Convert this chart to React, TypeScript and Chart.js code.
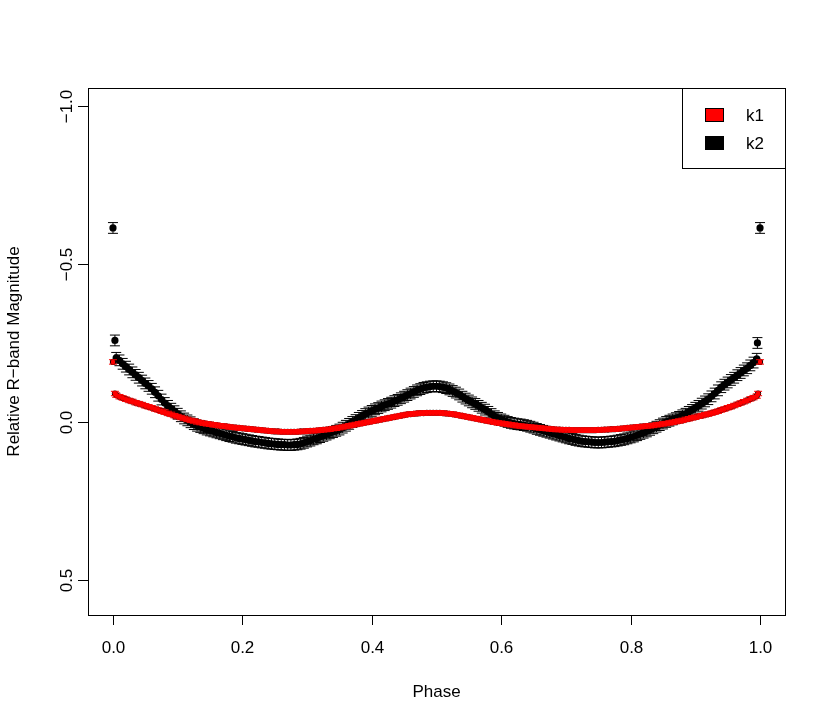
import React, { useEffect, useRef } from "react";
import { Chart, registerables } from "chart.js";

Chart.register(...registerables);

// ---- data ----
// phases of the main observations (two interleaved sets)
const PHASE_A = [
  0.01, 0.02, 0.03, 0.04, 0.05, 0.06, 0.07, 0.08, 0.09, 0.10,
  0.11, 0.12, 0.13, 0.14, 0.15, 0.16, 0.17, 0.18, 0.19, 0.20,
  0.21, 0.22, 0.23, 0.24, 0.25, 0.26, 0.27, 0.28, 0.29, 0.30,
  0.31, 0.32, 0.33, 0.34, 0.35, 0.36, 0.37, 0.38, 0.39, 0.40,
  0.41, 0.42, 0.43, 0.44, 0.45, 0.46, 0.47, 0.48, 0.49, 0.50,
  0.51, 0.52, 0.53, 0.54, 0.55, 0.56, 0.57, 0.58, 0.59, 0.60,
  0.61, 0.62, 0.63, 0.64, 0.65, 0.66, 0.67, 0.68, 0.69, 0.70,
  0.71, 0.72, 0.73, 0.74, 0.75, 0.76, 0.77, 0.78, 0.79, 0.80,
  0.81, 0.82, 0.83, 0.84, 0.85, 0.86, 0.87, 0.88, 0.89, 0.90,
  0.91, 0.92, 0.93, 0.94, 0.95, 0.96, 0.97, 0.98, 0.99,
];
const PHASE_B = [
  0.005, 0.015, 0.025, 0.035, 0.045, 0.055, 0.065, 0.075, 0.085, 0.095,
  0.105, 0.115, 0.125, 0.135, 0.145, 0.155, 0.165, 0.175, 0.185, 0.195,
  0.205, 0.215, 0.225, 0.235, 0.245, 0.255, 0.265, 0.275, 0.285, 0.295,
  0.305, 0.315, 0.325, 0.335, 0.345, 0.355, 0.365, 0.375, 0.385, 0.395,
  0.405, 0.415, 0.425, 0.435, 0.445, 0.455, 0.465, 0.475, 0.485, 0.495,
  0.505, 0.515, 0.525, 0.535, 0.545, 0.555, 0.565, 0.575, 0.585, 0.595,
  0.605, 0.615, 0.625, 0.635, 0.645, 0.655, 0.665, 0.675, 0.685, 0.695,
  0.705, 0.715, 0.725, 0.735, 0.745, 0.755, 0.765, 0.775, 0.785, 0.795,
  0.805, 0.815, 0.825, 0.835, 0.845, 0.855, 0.865, 0.875, 0.885, 0.895,
  0.905, 0.915, 0.925, 0.935, 0.945, 0.955, 0.965, 0.975, 0.985, 0.995,
];

const K1_MAG_A = [
  -0.080, -0.072, -0.065, -0.058, -0.051, -0.045, -0.038, -0.031, -0.024, -0.017,
  -0.011, -0.005, 0.000, 0.004, 0.007, 0.010, 0.013, 0.016, 0.018, 0.020,
  0.022, 0.024, 0.026, 0.028, 0.030, 0.031, 0.031, 0.031, 0.030, 0.029,
  0.028, 0.026, 0.024, 0.021, 0.018, 0.014, 0.010, 0.006, 0.002, -0.002,
  -0.006, -0.010, -0.014, -0.018, -0.022, -0.025, -0.027, -0.028, -0.029, -0.029,
  -0.028, -0.026, -0.023, -0.019, -0.015, -0.011, -0.007, -0.003, 0.001, 0.004,
  0.007, 0.010, 0.013, 0.015, 0.017, 0.019, 0.021, 0.023, 0.024, 0.025,
  0.026, 0.026, 0.026, 0.026, 0.025, 0.024, 0.023, 0.022, 0.020, 0.018,
  0.016, 0.014, 0.012, 0.009, 0.006, 0.003, -0.001, -0.005, -0.010, -0.015,
  -0.020, -0.025, -0.031, -0.038, -0.045, -0.052, -0.060, -0.068, -0.077,
];
const K1_MAG_B = [
  -0.085, -0.076, -0.068, -0.061, -0.055, -0.048, -0.041, -0.034, -0.027, -0.020,
  -0.014, -0.008, -0.003, 0.002, 0.006, 0.009, 0.012, 0.014, 0.017, 0.019,
  0.021, 0.023, 0.025, 0.027, 0.029, 0.030, 0.031, 0.031, 0.031, 0.030,
  0.028, 0.027, 0.025, 0.023, 0.020, 0.016, 0.012, 0.008, 0.004, 0.000,
  -0.004, -0.008, -0.012, -0.016, -0.020, -0.024, -0.026, -0.028, -0.029, -0.029,
  -0.029, -0.027, -0.025, -0.021, -0.017, -0.013, -0.009, -0.005, -0.001, 0.003,
  0.006, 0.009, 0.012, 0.014, 0.016, 0.018, 0.020, 0.022, 0.024, 0.025,
  0.025, 0.026, 0.026, 0.026, 0.026, 0.025, 0.024, 0.023, 0.021, 0.019,
  0.017, 0.015, 0.013, 0.011, 0.008, 0.005, 0.001, -0.003, -0.008, -0.013,
  -0.018, -0.023, -0.028, -0.034, -0.041, -0.048, -0.056, -0.064, -0.073, -0.082,
];

const K2_MAG_A = [
  -0.195, -0.175, -0.157, -0.140, -0.122, -0.105, -0.083, -0.060, -0.042, -0.026,
  -0.011, 0.001, 0.012, 0.020, 0.027, 0.033, 0.039, 0.045, 0.050, 0.054,
  0.058, 0.062, 0.065, 0.068, 0.070, 0.072, 0.073, 0.072, 0.069, 0.062,
  0.055, 0.048, 0.040, 0.032, 0.024, 0.012, 0.000, -0.013, -0.025, -0.035,
  -0.044, -0.053, -0.061, -0.070, -0.080, -0.090, -0.100, -0.108, -0.112, -0.113,
  -0.110, -0.103, -0.093, -0.080, -0.068, -0.057, -0.045, -0.032, -0.018, -0.008,
  0.000, 0.005, 0.008, 0.012, 0.018, 0.025, 0.031, 0.037, 0.043, 0.049,
  0.054, 0.059, 0.062, 0.064, 0.065, 0.064, 0.062, 0.059, 0.055, 0.049,
  0.042, 0.034, 0.025, 0.015, 0.005, -0.004, -0.012, -0.021, -0.032, -0.045,
  -0.058, -0.072, -0.090, -0.110, -0.125, -0.140, -0.155, -0.170, -0.188,
];
const K2_MAG_B = [
  -0.203, -0.184, -0.166, -0.149, -0.131, -0.114, -0.094, -0.071, -0.051, -0.034,
  -0.018, -0.005, 0.007, 0.016, 0.024, 0.030, 0.036, 0.042, 0.047, 0.052,
  0.056, 0.060, 0.063, 0.066, 0.069, 0.071, 0.072, 0.073, 0.071, 0.066,
  0.059, 0.052, 0.044, 0.036, 0.028, 0.018, 0.006, -0.006, -0.019, -0.030,
  -0.040, -0.049, -0.057, -0.066, -0.075, -0.085, -0.095, -0.104, -0.110, -0.113,
  -0.112, -0.107, -0.098, -0.087, -0.074, -0.062, -0.051, -0.039, -0.025, -0.013,
  -0.004, 0.003, 0.007, 0.010, 0.015, 0.022, 0.028, 0.034, 0.040, 0.046,
  0.052, 0.057, 0.061, 0.063, 0.065, 0.065, 0.063, 0.061, 0.057, 0.052,
  0.046, 0.038, 0.030, 0.020, 0.010, 0.000, -0.008, -0.016, -0.026, -0.038,
  -0.051, -0.065, -0.081, -0.100, -0.118, -0.133, -0.148, -0.163, -0.179, -0.200,
];

// points at the phase edges
const K1_EDGE_PHASE = [0.0, 0.003, 0.997, 1.0];
const K1_EDGE_MAG = [-0.19, -0.09, -0.09, -0.19];
const K2_EDGE_PHASE = [0.0, 0.003, 0.996, 1.0];
const K2_EDGE_MAG = [-0.614, -0.258, -0.25, -0.614];

const K1_ERR = 0.007;
const K2_ERR = 0.017;

const SERIES_NAMES = ["k1", "k2"];
const SERIES_COLORS = ["#ff0000", "#000000"];

const X_TICKS = [0, 0.2, 0.4, 0.6, 0.8, 1.0];
const X_TICK_LABELS = ["0.0", "0.2", "0.4", "0.6", "0.8", "1.0"];
const Y_TICKS = [-1.0, -0.5, 0.0, 0.5];
const Y_TICK_LABELS = ["\u22121.0", "\u22120.5", "0.0", "0.5"];
const X_TITLE = "Phase";
const Y_TITLE = "Relative R\u2212band Magnitude";

const X_MIN = -0.0386;
const X_MAX = 1.0386;
const Y_MIN = -1.057;
const Y_MAX = 0.611;

const FONT = "'Liberation Sans', Arial, Helvetica, sans-serif";
const FONT_SIZE = 17;

function buildPoints(phases: number[], mags: number[]) {
  return phases.map((p, i) => ({ x: p, y: mags[i] }));
}

// draws, before each dataset's points: an optional dark halo under the points, then the error bars
const errorBarPlugin = {
  id: "errorBars",
  beforeDatasetDraw(chart: any, args: any) {
    const ds = chart.data.datasets[args.index];
    const err = ds.errorValue;
    if (!err) return;
    const { ctx, scales } = chart;
    const xs = scales.x;
    const ys = scales.y;
    const hw = ds.capHalfWidth;
    ctx.save();
    if (ds.haloRadius) {
      ctx.fillStyle = ds.haloColor;
      ctx.beginPath();
      for (const pt of ds.data) {
        const px = xs.getPixelForValue(pt.x);
        const py = ys.getPixelForValue(pt.y);
        ctx.moveTo(px + ds.haloRadius, py);
        ctx.arc(px, py, ds.haloRadius, 0, Math.PI * 2);
      }
      ctx.fill();
    }
    ctx.strokeStyle = ds.errorColor;
    ctx.lineWidth = 1;
    ctx.beginPath();
    for (const pt of ds.data) {
      const px = xs.getPixelForValue(pt.x);
      const y1 = ys.getPixelForValue(pt.y - err);
      const y2 = ys.getPixelForValue(pt.y + err);
      ctx.moveTo(px, y1);
      ctx.lineTo(px, y2);
      ctx.moveTo(px - hw, y1);
      ctx.lineTo(px + hw, y1);
      ctx.moveTo(px - hw, y2);
      ctx.lineTo(px + hw, y2);
    }
    ctx.stroke();
    ctx.restore();
  },
};

const framePlugin = {
  id: "rFrame",
  afterDraw(chart: any) {
    const { ctx, chartArea: a, scales } = chart;
    const xs = scales.x;
    const ys = scales.y;
    ctx.save();
    ctx.strokeStyle = "#000";
    ctx.lineWidth = 1;
    ctx.strokeRect(a.left + 0.5, a.top + 0.5, a.right - a.left, a.bottom - a.top);

    ctx.fillStyle = "#000";
    ctx.font = `${FONT_SIZE}px ${FONT}`;
    ctx.textAlign = "center";
    ctx.textBaseline = "middle";
    X_TICKS.forEach((v, i) => {
      const px = Math.round(xs.getPixelForValue(v)) + 0.5;
      ctx.beginPath();
      ctx.moveTo(px, a.bottom);
      ctx.lineTo(px, a.bottom + 10);
      ctx.stroke();
      ctx.fillText(X_TICK_LABELS[i], px, a.bottom + 33);
    });
    ctx.fillText(X_TITLE, (a.left + a.right) / 2, a.bottom + 77);

    Y_TICKS.forEach((v, i) => {
      const py = Math.round(ys.getPixelForValue(v)) + 0.5;
      ctx.beginPath();
      ctx.moveTo(a.left - 10, py);
      ctx.lineTo(a.left, py);
      ctx.stroke();
      ctx.save();
      ctx.translate(a.left - 21, py);
      ctx.rotate(-Math.PI / 2);
      ctx.fillText(Y_TICK_LABELS[i], 0, 0);
      ctx.restore();
    });
    ctx.save();
    ctx.translate(14, (a.top + a.bottom) / 2);
    ctx.rotate(-Math.PI / 2);
    ctx.fillText(Y_TITLE, 0, 0);
    ctx.restore();

    // legend
    const lw = 103;
    const lh = 80;
    const lx = a.right - lw;
    const ly = a.top;
    ctx.strokeRect(lx + 0.5, ly + 0.5, lw, lh);
    ctx.textAlign = "left";
    SERIES_NAMES.forEach((name, i) => {
      const sy = ly + 20 + i * 28;
      ctx.fillStyle = SERIES_COLORS[i];
      ctx.fillRect(lx + 23, sy, 19, 14);
      ctx.strokeStyle = "#000";
      ctx.strokeRect(lx + 23.5, sy + 0.5, 18, 13);
      ctx.fillStyle = "#000";
      ctx.fillText(name, lx + 64, sy + 8);
    });
    ctx.restore();
  },
};

export default function App() {
  const canvasRef = useRef<HTMLCanvasElement | null>(null);

  useEffect(() => {
    const canvas = canvasRef.current;
    if (!canvas) return;
    const k1Data = buildPoints(K1_EDGE_PHASE, K1_EDGE_MAG)
      .concat(buildPoints(PHASE_B, K1_MAG_B))
      .concat(buildPoints(PHASE_A, K1_MAG_A));
    const k2Data = buildPoints(K2_EDGE_PHASE, K2_EDGE_MAG)
      .concat(buildPoints(PHASE_B, K2_MAG_B))
      .concat(buildPoints(PHASE_A, K2_MAG_A));
    const chart = new Chart(canvas, {
      type: "scatter",
      data: {
        datasets: [
          {
            label: SERIES_NAMES[0],
            data: k1Data,
            pointRadius: 2.3,
            pointBackgroundColor: SERIES_COLORS[0],
            pointBorderWidth: 0,
            errorValue: K1_ERR,
            errorColor: SERIES_COLORS[0],
            capHalfWidth: 4,
            haloRadius: 3.1,
            haloColor: "#000",
          } as any,
          {
            label: SERIES_NAMES[1],
            data: k2Data,
            pointRadius: 3.6,
            pointBackgroundColor: SERIES_COLORS[1],
            pointBorderColor: "#000",
            pointBorderWidth: 0,
            errorValue: K2_ERR,
            errorColor: SERIES_COLORS[1],
            capHalfWidth: 5,
          } as any,
        ],
      },
      options: {
        animation: false,
        responsive: false,
        events: [],
        layout: { padding: { left: 88, top: 88, right: 45, bottom: 110 } },
        scales: {
          x: { type: "linear", min: X_MIN, max: X_MAX, display: false },
          y: { type: "linear", min: Y_MIN, max: Y_MAX, reverse: true, display: false },
        },
        plugins: {
          legend: { display: false },
          tooltip: { enabled: false },
        },
      },
      plugins: [errorBarPlugin, framePlugin],
    });
    return () => chart.destroy();
  }, []);

  return (
    <div style={{ position: "absolute", left: 0, top: 0, width: 830, height: 725, background: "#fff" }}>
      <canvas ref={canvasRef} width={830} height={725} style={{ width: 830, height: 725 }} />
    </div>
  );
}
